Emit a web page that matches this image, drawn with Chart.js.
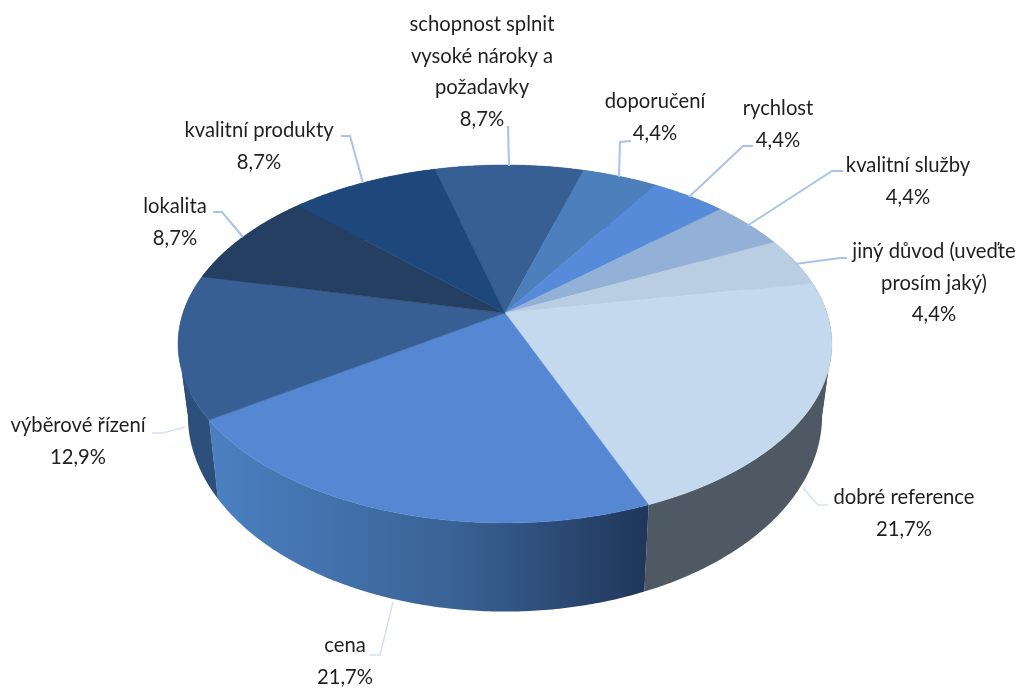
<!DOCTYPE html>
<html lang="cs">
<head>
<meta charset="utf-8">
<title>Graf</title>
<script src="https://cdn.jsdelivr.net/npm/chart.js@4"></script>
<style>
  html, body { margin: 0; padding: 0; background: #fff; }
  #wrap { width: 1019px; height: 688px; }
</style>
</head>
<body>
<div id="wrap"><canvas id="pie3d" width="1019" height="688"></canvas></div>
<script>
// Data
const categories = [
  ['schopnost splnit', 'vysoké nároky a', 'požadavky'],
  ['doporučení'],
  ['rychlost'],
  ['kvalitní služby'],
  ['jiný důvod (uveďte', 'prosím jaký)'],
  ['dobré reference'],
  ['cena'],
  ['výběrové řízení'],
  ['lokalita'],
  ['kvalitní produkty']
];
const shares = [8.7, 4.4, 4.4, 4.4, 4.4, 21.7, 21.7, 12.9, 8.7, 8.7];

// Barvy
const topColors = ['#375f93', '#4c7fbb', '#558bd8', '#93b0d6', '#b9cde3', '#c5d9ee', '#5587d3', '#375f93', '#253f62', '#1e487b'];
const sideColors = ['#2c4c76', '#3d6696', '#4470ad', '#7690ac', '#95a5b7', '#4f5964', null, '#2c4f7c', '#1e324e', '#183a63'];

// Popisky: stred textu a vynaseci cara
const labelPos = [
  { x: 482, y: 24, line: [[508, 126], [509, 166]] },
  { x: 655, y: 101, line: [[631, 141], [620, 142], [619, 177]] },
  { x: 778, y: 108, line: [[753, 146], [743, 146], [689, 197]] },
  { x: 908, y: 165, line: [[843, 171], [832, 171], [747, 226]] },
  { x: 934, y: 251, line: [[847, 258], [840, 258], [795, 264]] },
  { x: 904, y: 497, line: [[828, 505], [818, 505], [803, 488]], light: true },
  { x: 345, y: 645, line: [[370, 655], [380, 655], [393, 602]], light: true },
  { x: 78, y: 425, line: [[152, 433], [163, 433], [185, 427]], light: true },
  { x: 175, y: 206, line: [[213, 212], [222, 212], [243, 237]] },
  { x: 259, y: 130, line: [[341, 136], [350, 136], [363, 183]] }
];

// Perspektiva horni plochy
const cx = 505, cy = 313, R = 322, S = 173.6, K = 0.173;
// uhly, kde stena prechazi v obrys (nejsirsi misto elipsy)
const foldRight = Math.asin(K), foldLeft = Math.PI - foldRight;

function topPoint(a) {
  const u = Math.cos(a), v = Math.sin(a), w = 1 - K * v;
  return [cx + R * u / w, cy + S * v / w];
}

function basePoint(a) {
  const p = topPoint(a);
  return [cx + 0.97 * (p[0] - cx), cy + 68.7 + 1.095 * (p[1] - cy)];
}

function rim(start, end, fn) {
  const pts = [];
  const steps = Math.max(2, Math.ceil((end - start) / 0.01));
  for (let i = 0; i <= steps; i++) pts.push(fn(start + (end - start) * i / steps));
  return pts;
}

// oblouky mohou byt za 180 stupni, proto i druha otacka
function wallParts(start, end) {
  const cuts = [start];
  [foldRight, foldLeft, foldRight + 2 * Math.PI, foldLeft + 2 * Math.PI, foldRight - 2 * Math.PI, foldLeft - 2 * Math.PI]
    .filter(f => f > start && f < end)
    .sort((a, b) => a - b)
    .forEach(f => cuts.push(f));
  cuts.push(end);
  return cuts.slice(1).map((c, i) => [cuts[i], c]);
}

const pie3dPlugin = {
  id: 'pie3d',
  beforeDatasetsDraw(chart) {
    const ctx = chart.ctx;
    const arcs = chart.getDatasetMeta(0).data;

    // bocni stena
    arcs.forEach((arc, i) => {
      let fill = sideColors[i];
      if (!fill) {
        fill = ctx.createLinearGradient(207, 0, 648, 0);
        fill.addColorStop(0, '#4b80c2');
        fill.addColorStop(0.55, '#3a6396');
        fill.addColorStop(1, '#20365a');
      }
      ctx.fillStyle = fill;
      wallParts(arc.startAngle, arc.endAngle).forEach(part => {
        const top = rim(part[0], part[1], topPoint);
        const base = rim(part[0], part[1], basePoint).reverse();
        ctx.beginPath();
        top.concat(base).forEach((p, n) => n ? ctx.lineTo(p[0], p[1]) : ctx.moveTo(p[0], p[1]));
        ctx.closePath();
        ctx.fill();
      });
    });

    // horni plocha
    arcs.forEach((arc, i) => {
      ctx.beginPath();
      ctx.moveTo(cx, cy);
      rim(arc.startAngle, arc.endAngle, topPoint).forEach(p => ctx.lineTo(p[0], p[1]));
      ctx.closePath();
      ctx.fillStyle = topColors[i];
      ctx.fill();
      ctx.strokeStyle = topColors[i];
      ctx.lineWidth = 0.5;
      ctx.stroke();
    });

    // vynaseci cary
    labelPos.forEach(pos => {
      ctx.beginPath();
      pos.line.forEach((p, n) => n ? ctx.lineTo(p[0], p[1]) : ctx.moveTo(p[0], p[1]));
      ctx.strokeStyle = pos.light ? '#d5e1f3' : '#a9c3ea';
      ctx.lineWidth = pos.light ? 1.5 : 2;
      ctx.stroke();
    });

    // popisky, pismo mirne zuzene jako v predloze
    ctx.fillStyle = '#1f1f1f';
    ctx.font = '22px Lato';
    ctx.textAlign = 'center';
    ctx.textBaseline = 'middle';
    categories.forEach((lines, i) => {
      const pos = labelPos[i];
      const rows = lines.concat(shares[i].toFixed(1).replace('.', ',') + '%');
      rows.forEach((row, n) => {
        ctx.save();
        ctx.translate(pos.x, pos.y + n * 31.5);
        ctx.scale(0.92, 1);
        ctx.fillText(row, 0, 0);
        ctx.restore();
      });
    });
    return false; // vychozi oblouky nekreslit
  }
};

new Chart(document.getElementById('pie3d').getContext('2d'), {
  type: 'pie',
  data: {
    labels: categories.map(c => c.join(' ')),
    datasets: [{ data: shares, backgroundColor: topColors, borderWidth: 0 }]
  },
  options: {
    responsive: false,
    animation: false,
    rotation: -14.8,
    plugins: { legend: { display: false }, tooltip: { enabled: false } }
  },
  plugins: [pie3dPlugin]
});
</script>
</body>
</html>
